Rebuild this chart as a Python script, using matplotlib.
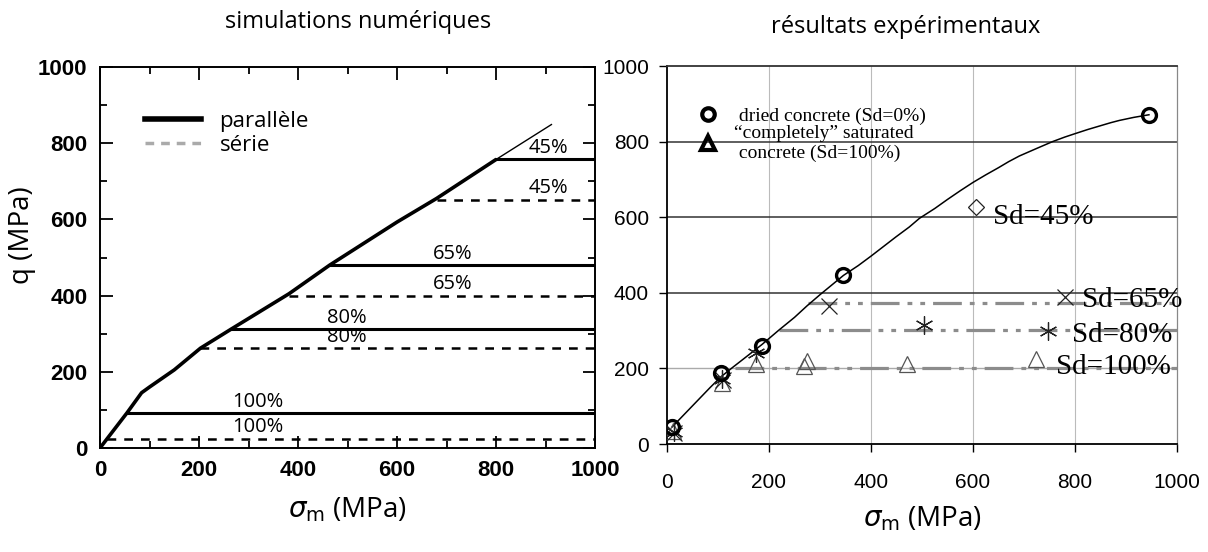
import matplotlib
matplotlib.use("Agg")
import matplotlib.pyplot as plt
from matplotlib.lines import Line2D
from matplotlib.ticker import MultipleLocator

# ---- left panel: numerical simulations ----
env_x = [0, 55, 84, 100, 150, 203, 265, 382, 464, 600, 680, 801]
env_y = [0, 93, 145, 160, 205, 262, 312, 405, 480, 593, 655, 758]
env_ext_x = [801, 912]
env_ext_y = [758, 849]

sd_labels = ["45%", "65%", "80%", "100%"]
para_q = [758, 480, 312, 92]
para_start = [801, 464, 265, 57]
serie_q = [652, 400, 262, 24]
serie_start = [680, 382, 203, 14]

# ---- right panel: experimental results ----
dried_x = [10, 106, 186, 346, 945]
dried_y = [45, 189, 260, 446, 871]
fit_x = [10, 35, 60, 85, 106, 130, 150, 186, 220, 250, 275, 300, 346, 375,
         400, 425, 449, 475, 495, 525, 550, 575, 600, 625, 650, 670, 691,
         725, 756, 780, 800, 825, 850, 870, 887, 915, 945]
fit_y = [45, 80, 115, 150, 178, 204, 225, 263, 302, 335, 366, 395, 446, 472,
         497, 523, 548, 574, 597, 623, 647, 670, 692, 712, 731, 747, 762,
         782, 800, 812, 821, 832, 842, 850, 856, 864, 871]
sat_x = [12, 108, 175, 269, 274, 470, 724]
sat_y = [35, 162, 211, 207, 220, 211, 225]
sd80_x = [14, 108, 174, 503, 748]
sd80_y = [32, 172, 240, 314, 300]
sd65_x = [14, 110, 318, 781]
sd65_y = [30, 168, 366, 388]
sd45_x = [606]
sd45_y = [627]
exp_labels = ["Sd=45%", "Sd=65%", "Sd=80%", "Sd=100%"]
exp_line_q = [374, 302, 201]
exp_line_start = [277, 219, 134]

W, H = 1208, 552
fig = plt.figure(figsize=(W / 100, H / 100), dpi=100)

sans = "Open Sans"
serif = "Liberation Serif"

# ================= left =================
ax1 = fig.add_axes([100 / W, 1 - 448 / H, 495 / W, 381 / H])
ax1.plot(env_x, env_y, color="black", lw=2.6, solid_capstyle="butt",
         solid_joinstyle="round")
ax1.plot(env_ext_x, env_ext_y, color="black", lw=1.0)
for q, s in zip(para_q, para_start):
    ax1.plot([s, 1000], [q, q], color="black", lw=2.2)
for q, s in zip(serie_q, serie_start):
    ax1.plot([s, 1000], [q, q], color="black", lw=1.8, ls=(0, (3.5, 3.2)))

label_x = [905, 712, 499, 319]
for lx, q, lab in zip(label_x, para_q, sd_labels):
    ax1.annotate(lab, xy=(lx, q), xytext=(0, 1), textcoords="offset points",
                 ha="center", va="bottom", fontsize=14.5, family=sans)
for lx, q, lab in zip(label_x, serie_q, sd_labels):
    ax1.annotate(lab, xy=(lx, q), xytext=(0, 1), textcoords="offset points",
                 ha="center", va="bottom", fontsize=14.5, family=sans)

ax1.set_xlim(0, 1000)
ax1.set_ylim(0, 1000)
ax1.xaxis.set_major_locator(MultipleLocator(200))
ax1.yaxis.set_major_locator(MultipleLocator(200))
ax1.xaxis.set_minor_locator(MultipleLocator(100))
ax1.yaxis.set_minor_locator(MultipleLocator(100))
ax1.tick_params(which="both", direction="in", top=True, right=True, width=1.3)
ax1.tick_params(which="major", length=9, pad=9)
ax1.tick_params(which="minor", length=5)
for t in ax1.get_xticklabels() + ax1.get_yticklabels():
    t.set_fontfamily("Liberation Sans")
    t.set_fontweight("bold")
    t.set_fontsize(16)
for sp in ax1.spines.values():
    sp.set_linewidth(1.4)

ax1.set_xlabel(r"$\sigma_\mathrm{m}$ (MPa)", fontsize=20, family=sans, labelpad=10)
ax1.set_ylabel("q (MPa)", fontsize=20, family=sans)
ax1.yaxis.set_label_coords(-0.13, 0.56)

leg1 = ax1.legend(
    handles=[Line2D([], [], color="black", lw=4),
             Line2D([], [], color="#aaaaaa", lw=2.5, ls=(0, (2.5, 2)))],
    labels=["parallèle", "série"], loc="upper left",
    bbox_to_anchor=(0.091, 0.885), frameon=False, borderpad=0,
    borderaxespad=0, handlelength=2.5, handletextpad=0.85, labelspacing=0.15,
    prop={"family": sans, "size": 16})

fig.text(358 / W, 1 - 22 / H, "simulations numériques", ha="center",
         va="center", fontsize=17, family=sans)

# ================= right =================
ax2 = fig.add_axes([667 / W, 1 - 444 / H, 510 / W, 378 / H])
ax2.set_xlim(0, 1000)
ax2.set_ylim(0, 1000)
for v in [200, 400, 600, 800]:
    ax2.axvline(v, color="#bbbbbb", lw=0.8, zorder=0)
ax2.axhline(200, color="#aaaaaa", lw=1.0, zorder=0)
for h in [400, 600, 800]:
    ax2.axhline(h, color="#333333", lw=1.1, zorder=0)

for q, s in zip(exp_line_q, exp_line_start):
    ax2.plot([s, 1000], [q, q], color="#8c8c8c", lw=2.3,
             ls=(0, (9, 2.5, 1.5, 2.5, 1.5, 2.5)), zorder=1)

ax2.plot(fit_x, fit_y, color="black", lw=1.1, zorder=2)
ax2.plot(sat_x, sat_y, ls="none", marker="^", ms=11, mfc="none",
         mec="#555555", mew=0.9, zorder=3)
ax2.plot(sd80_x, sd80_y, ls="none", marker=(6, 2, 0), ms=13, mec="#222222",
         mew=0.9, zorder=3)
ax2.plot(sd65_x, sd65_y, ls="none", marker="x", ms=11, mec="#222222",
         mew=0.9, zorder=3)
ax2.plot(sd45_x, sd45_y, ls="none", marker="D", ms=8, mfc="none",
         mec="#222222", mew=0.9, zorder=3)
ax2.plot(dried_x, dried_y, ls="none", marker="o", ms=10, mfc="none",
         mec="black", mew=2.4, zorder=4)

exp_text_pos = [(639, 600), (814, 381), (795, 288), (763, 204)]
for (tx, ty), lab in zip(exp_text_pos, exp_labels):
    ax2.text(tx, ty, lab, ha="left", va="center", fontsize=21, family=serif,
             clip_on=False, zorder=5)

ax2.xaxis.set_major_locator(MultipleLocator(200))
ax2.yaxis.set_major_locator(MultipleLocator(200))
ax2.tick_params(direction="out", length=6, width=1.0, labelsize=15)
ax2.tick_params(axis="x", pad=15)
ax2.tick_params(axis="y", pad=7)
for t in ax2.get_xticklabels() + ax2.get_yticklabels():
    t.set_fontfamily("Liberation Sans")
ax2.spines["left"].set_linewidth(1.3)
ax2.spines["bottom"].set_linewidth(1.3)
ax2.spines["top"].set_color("#333333")
ax2.spines["top"].set_linewidth(1.3)
ax2.spines["right"].set_color("#888888")
ax2.spines["right"].set_linewidth(0.9)

ax2.set_xlabel(r"$\sigma_\mathrm{m}$ (MPa)", fontsize=20, family=sans, labelpad=9)

ax2.legend(
    handles=[Line2D([], [], ls="none", marker="o", ms=9, mfc="none",
                    mec="black", mew=3),
             Line2D([], [], ls="none", marker="^", ms=10, mfc="none",
                    mec="black", mew=3)],
    labels=[" dried concrete (Sd=0%)", "“completely” saturated\n concrete (Sd=100%)"],
    loc="upper left", bbox_to_anchor=(0.059, 0.89), frameon=False,
    borderpad=0, borderaxespad=0, handlelength=1.1, handletextpad=0.8,
    labelspacing=0.0, prop={"family": serif, "size": 14})

fig.text(906 / W, 1 - 27 / H, "résultats expérimentaux", ha="center",
         va="center", fontsize=17, family=sans)

fig.savefig("out.png", dpi=100)
